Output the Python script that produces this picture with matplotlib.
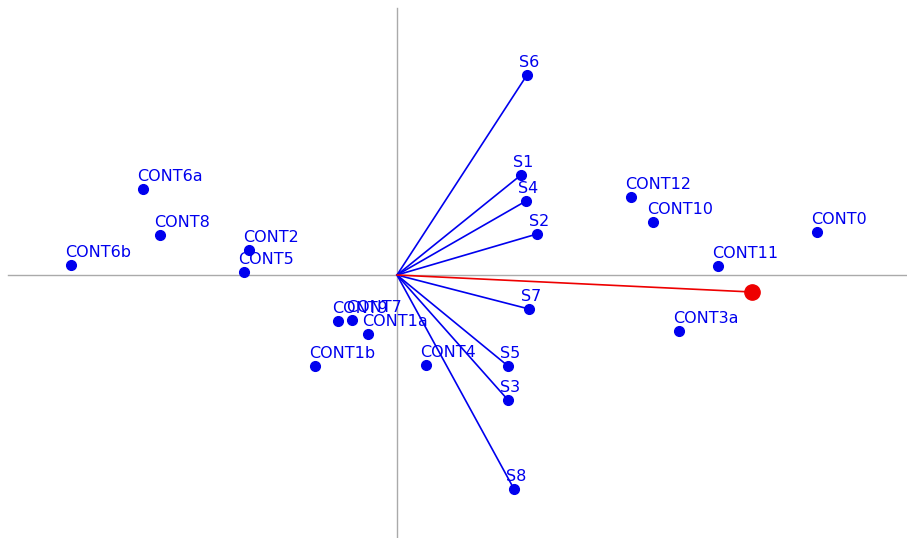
import matplotlib
matplotlib.use("Agg")
import matplotlib.pyplot as plt

# Sample (site) scores
site_names = ["CONT6a", "CONT8", "CONT6b", "CONT2", "CONT5", "CONT9", "CONT7",
              "CONT1a", "CONT1b", "CONT4", "CONT12", "CONT10", "CONT0", "CONT11", "CONT3a"]
site_x = [-2.54, -2.37, -3.26, -1.48, -1.53, -0.59, -0.45, -0.29, -0.82, 0.29,
          2.34, 2.56, 4.20, 3.21, 2.82]
site_y = [0.86, 0.40, 0.10, 0.25, 0.03, -0.46, -0.45, -0.59, -0.91, -0.90,
          0.78, 0.53, 0.43, 0.09, -0.56]

# Species / variable vectors
vec_names = ["S6", "S1", "S4", "S2", "S7", "S5", "S3", "S8"]
vec_x = [1.30, 1.24, 1.29, 1.40, 1.32, 1.11, 1.11, 1.17]
vec_y = [2.00, 1.00, 0.74, 0.41, -0.34, -0.91, -1.25, -2.14]

# Highlighted (red) vector
red_x = 3.55
red_y = -0.17

blue = "#0000EE"
red = "#EE0000"

fig = plt.figure(figsize=(9.07, 5.38), dpi=100)
ax = fig.add_axes([0, 0, 1, 1])
ax.set_xlim(-3.97, 5.10)
ax.set_ylim(-2.63, 2.75)
ax.axis("off")

# Axes cross
ax.plot([0, 0], [-2.63, 2.67], color="#aaaaaa", lw=1.0, zorder=1)
ax.plot([-3.89, 5.10], [0, 0], color="#aaaaaa", lw=1.0, zorder=1)

# Vectors
for x, y in zip(vec_x, vec_y):
    ax.plot([0, x], [0, y], color=blue, lw=1.2, zorder=2)
ax.plot(vec_x, vec_y, "o", color=blue, ms=7, zorder=3)
for n, x, y in zip(vec_names, vec_x, vec_y):
    ax.annotate(n, (x, y), xytext=(-8, 5), textcoords="offset pixels",
                ha="left", va="bottom", color=blue, fontsize=11.5)

# Red vector
ax.plot([0, red_x], [0, red_y], color=red, lw=1.2, zorder=2)
ax.plot([red_x], [red_y], "o", color=red, ms=11, zorder=3)

# Sites
ax.plot(site_x, site_y, "o", color=blue, ms=7, zorder=3)
for n, x, y in zip(site_names, site_x, site_y):
    ax.annotate(n, (x, y), xytext=(-6, 5), textcoords="offset pixels",
                ha="left", va="bottom", color=blue, fontsize=11.5)

fig.savefig("out.png", dpi=100)
